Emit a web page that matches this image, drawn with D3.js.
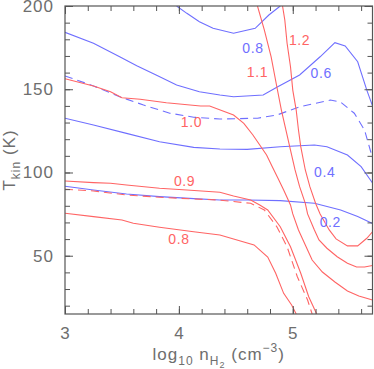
<!DOCTYPE html>
<html><head><meta charset="utf-8">
<script src="https://cdn.jsdelivr.net/npm/d3@7"></script>
<style>
html,body{margin:0;padding:0;background:#fff;}
svg{display:block;}
text{font-family:"Liberation Sans",Arial,sans-serif;}
</style></head>
<body>
<svg id="c" width="374" height="369"></svg>
<script>
// ---- data (log10 nH2, Tkin) ----
const blue08 = [[3.98,200],[4.07,195.6],[4.18,190.6],[4.30,186.6],[4.48,183.6],[4.67,186.6],[4.79,194.6],[4.89,200]];
const blue06 = [[3.0,184.2],[3.25,177.6],[3.48,169.5],[3.63,164.1],[3.80,158.6],[3.98,152.6],[4.18,148.5],[4.36,146.5],[4.48,145.5],[4.74,146.5],[4.86,151.2],[5.06,158.6],[5.24,169.5],[5.37,178.0],[5.46,176.0],[5.57,166.5],[5.65,149.5],[5.70,140]];
const blue05dash = [[3.0,158.0],[3.25,152.0],[3.48,145.5],[3.69,140.5],[3.92,135.6],[4.13,133.2],[4.36,132.1],[4.69,132.6],[4.86,134.5],[5.06,139.5],[5.33,143.5],[5.42,142.3],[5.54,135.6],[5.63,125.5],[5.68,113.5],[5.70,108.7]];
const blue04 = [[3.0,132.6],[3.25,128.5],[3.54,123.5],[3.83,118.5],[4.13,115.1],[4.36,114.1],[4.60,113.9],[4.89,115.5],[5.19,116.5],[5.30,115.5],[5.48,110.5],[5.60,103.5],[5.70,93.7]];
const blue02 = [[3.0,91.7],[3.25,89.5],[3.54,87.1],[3.83,85.5],[4.13,84.3],[4.36,83.5],[4.60,83.5],[4.89,83.1],[5.19,81.5],[5.42,77.5],[5.57,73.5],[5.70,69.4]];

const red12 = [[4.91,200],[4.93,191.6],[4.95,177.6],[4.98,163.5],[5.00,149.5],[5.03,137.5],[5.05,125.5],[5.07,115.5],[5.11,101.5],[5.15,91.5],[5.20,81.5],[5.24,75.1],[5.32,65.5],[5.38,60.1],[5.48,55.9],[5.57,55.9],[5.65,60.5],[5.70,64.4]];
const red11 = [[4.69,200],[4.75,185.6],[4.81,169.5],[4.86,151.5],[4.90,137.5],[4.94,125.5],[4.98,113.5],[5.02,101.5],[5.06,91.5],[5.11,81.5],[5.13,75.1],[5.19,65.5],[5.23,59.5],[5.30,54.5],[5.39,49.4],[5.48,45.5],[5.56,43.2],[5.63,43.2],[5.70,44.1]];
const red10 = [[3.0,156.3],[3.25,152.0],[3.40,148.5],[3.50,144.9],[3.66,144.0],[3.89,141.9],[4.19,139.9],[4.27,139.9],[4.48,134.5],[4.57,129.5],[4.65,122.5],[4.71,116.5],[4.77,110.5],[4.82,103.5],[4.87,96.5],[4.92,89.5],[4.98,80.5],[5.00,75.1],[5.05,65.5],[5.11,56.5],[5.17,47.4],[5.26,40.2],[5.37,34.2],[5.48,28.8],[5.58,25.8],[5.70,23.4]];
const red09 = [[3.0,94.9],[3.25,93.9],[3.40,93.5],[3.54,92.5],[3.83,90.5],[4.07,89.5],[4.36,88.1],[4.48,85.9],[4.63,83.5],[4.71,80.5],[4.78,77.5],[4.89,67.4],[4.98,55.4],[5.07,39.5],[5.14,25.4],[5.21,15]];
const red085dash = [[3.0,89.9],[3.25,88.9],[3.54,86.5],[3.83,85.1],[4.13,84.1],[4.34,83.5],[4.63,81.5],[4.75,77.5],[4.86,67.4],[4.95,55.4],[5.04,37.4],[5.13,23.4],[5.17,15]];
const red08 = [[3.0,75.5],[3.25,73.5],[3.50,71.5],[3.60,69.5],[3.83,67.1],[4.13,64.4],[4.36,62.5],[4.66,56.5],[4.78,49.2],[4.85,39.5],[4.92,27.4],[4.99,20.4],[5.03,15]];

const blueLabels = [["0.8",4.65,174.8],["0.6",5.25,159.8],["0.4",5.28,100.3],["0.2",5.33,70.3]];
const redLabels = [["1.0",4.11,130.3],["0.9",4.05,94.9],["0.8",4.00,60.1],["1.1",4.69,160.4],["1.2",5.06,179.6]];

const xMajorTicks = [3,4,5];
const xMinorTicks = d3.range(0,14).map(i => +(3 + i*0.2).toFixed(1));
const yMajorTicks = [50,100,150,200];
const yMinorTicks = d3.range(20,201,10);

// ---- drawing ----
const BLUE = "#6f6fff", RED = "#ff6464", AX = "#555", TXT = "#6e6e6e";
const L = 65, R = 372.5, T = 6, B = 314;
const svg = d3.select("#c");
const x = d3.scaleLinear().domain([3,5.7]).range([L,R]);
const y = d3.scaleLinear().domain([15,200]).range([B,T]);

svg.append("defs").append("clipPath").attr("id","clip")
  .append("rect").attr("x",L).attr("y",T).attr("width",R-L).attr("height",B-T);

const line = d3.line().x(d=>x(d[0])).y(d=>y(d[1]));
const plot = svg.append("g").attr("clip-path","url(#clip)");
const series = [
  [blue08,BLUE,null],[blue06,BLUE,null],[blue05dash,BLUE,"8,5"],[blue04,BLUE,null],[blue02,BLUE,null],
  [red12,RED,null],[red11,RED,null],[red10,RED,null],[red09,RED,null],[red085dash,RED,"8,5"],[red08,RED,null]
];
series.forEach(([d,c,dash]) => {
  plot.append("path").datum(d).attr("d",line).attr("fill","none")
    .attr("stroke",c).attr("stroke-width",1.1).attr("stroke-dasharray",dash);
});

function lbls(arr,col){
  svg.append("g").selectAll("text").data(arr).join("text")
    .attr("x",d=>x(d[1])).attr("y",d=>y(d[2]))
    .attr("text-anchor","middle").attr("dominant-baseline","central")
    .attr("font-size",14).attr("letter-spacing",0.6).attr("fill",col).text(d=>d[0]);
}
lbls(blueLabels,BLUE); lbls(redLabels,RED);

// axes
function styleAx(g){
  g.select(".domain").remove();
  g.selectAll(".tick line").attr("stroke",AX).attr("stroke-width",1);
  g.selectAll(".tick text").attr("fill",TXT).attr("font-size",17).attr("letter-spacing",1)
    .attr("font-family","'Liberation Sans',Arial,sans-serif");
}
svg.append("g").attr("transform",`translate(0,${B})`).call(d3.axisBottom(x).tickValues(xMinorTicks).tickSize(-5).tickFormat("")).call(styleAx);
svg.append("g").attr("transform",`translate(0,${B})`).call(d3.axisBottom(x).tickValues(xMajorTicks).tickSize(-8).tickPadding(13).tickFormat(d3.format("d"))).call(styleAx);
svg.append("g").attr("transform",`translate(0,${T})`).call(d3.axisTop(x).tickValues(xMinorTicks).tickSize(-5).tickFormat("")).call(styleAx);
svg.append("g").attr("transform",`translate(0,${T})`).call(d3.axisTop(x).tickValues(xMajorTicks).tickSize(-8).tickFormat("")).call(styleAx);
svg.append("g").attr("transform",`translate(${L},0)`).call(d3.axisLeft(y).tickValues(yMinorTicks).tickSize(-5).tickFormat("")).call(styleAx);
svg.append("g").attr("transform",`translate(${L},0)`).call(d3.axisLeft(y).tickValues(yMajorTicks).tickSize(-8).tickPadding(11).tickFormat(d3.format("d"))).call(styleAx);
svg.append("g").attr("transform",`translate(${R},0)`).call(d3.axisRight(y).tickValues(yMinorTicks).tickSize(-5).tickFormat("")).call(styleAx);
svg.append("g").attr("transform",`translate(${R},0)`).call(d3.axisRight(y).tickValues(yMajorTicks).tickSize(-8).tickFormat("")).call(styleAx);

svg.append("rect").attr("x",L).attr("y",T).attr("width",R-L).attr("height",B-T)
  .attr("fill","none").attr("stroke",AX).attr("stroke-width",1.2);

// axis titles
const xt = svg.append("text").attr("x",(L+R)/2).attr("y",360).attr("text-anchor","middle")
  .attr("fill",TXT).attr("font-size",17).attr("letter-spacing",1);
xt.append("tspan").text("log");
xt.append("tspan").attr("dy",5).attr("font-size",12).text("10");
xt.append("tspan").attr("dy",-5).text(" n");
xt.append("tspan").attr("dy",5).attr("font-size",12).text("H");
xt.append("tspan").attr("dy",3).attr("font-size",9).text("2");
xt.append("tspan").attr("dy",-8).text(" (cm");
xt.append("tspan").attr("dy",-8).attr("font-size",12).text("−3");
xt.append("tspan").attr("dy",8).text(")");

const yt = svg.append("text").attr("transform","translate(15,160) rotate(-90)").attr("text-anchor","middle")
  .attr("fill",TXT).attr("font-size",17).attr("letter-spacing",1);
yt.append("tspan").text("T");
yt.append("tspan").attr("dy",5).attr("font-size",12).text("kin");
yt.append("tspan").attr("dy",-5).text(" (K)");
</script>
</body></html>
